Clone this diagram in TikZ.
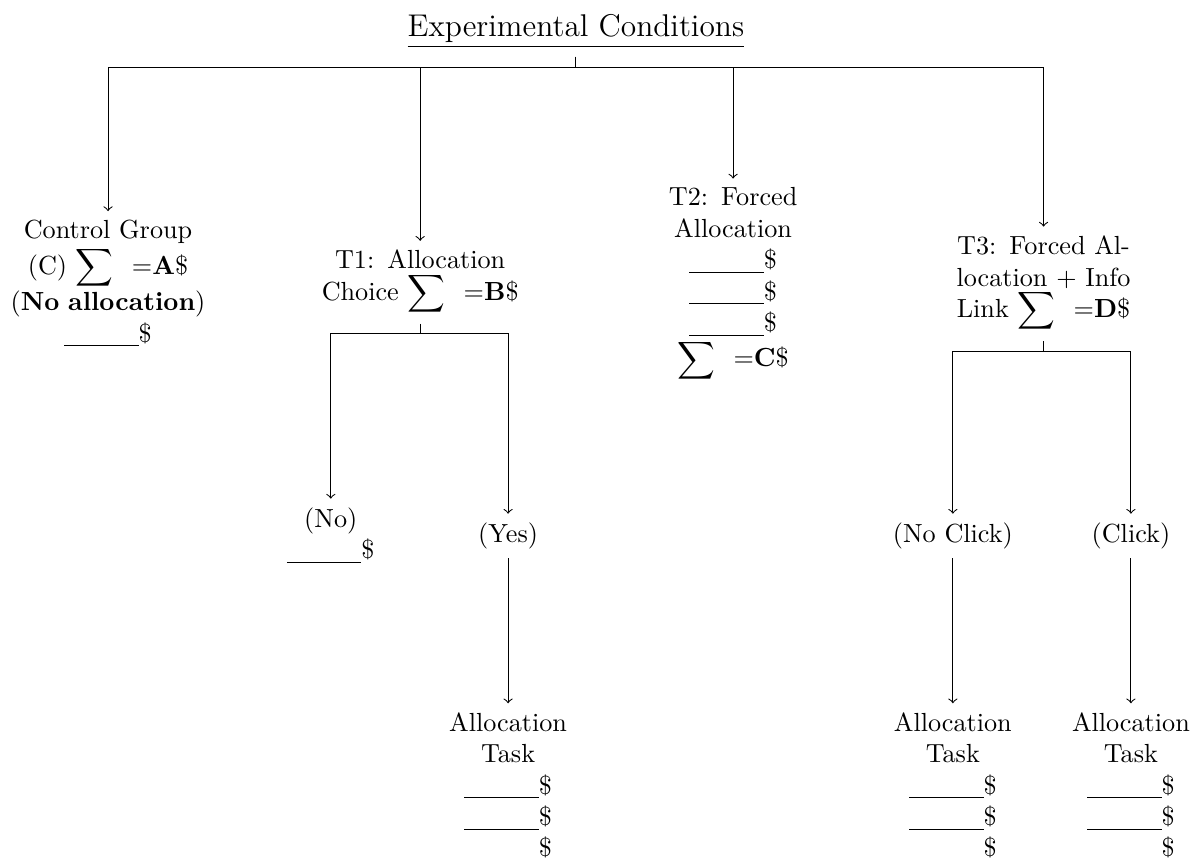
\documentclass[tikz,border=0pt]{standalone}
\usepackage{tikz}
\usetikzlibrary{calc}

\newcommand{\blankamt}{\underline{\hspace{1cm}}\$}
\newcommand{\nolineamt}{\hphantom{\underline{\hspace{1cm}}}\$}
\newcommand{\sumamt}[1]{$\displaystyle\sum$\hspace{0.7em}=\textbf{#1}\$}

\begin{document}
\begin{tikzpicture}[every node/.style={align=center, text width=3cm}, branch/.style={->}]
\useasboundingbox (0, 0) rectangle (16, -11.557);

\node[anchor=south, text width=] (title) at (7.73, -0.765) {\large\underline{Experimental Conditions}};

% conditions
\node (ctrl) at (1.45, -3.81)
	{Control Group\\ (C) \sumamt{A}\\ (\textbf{No allocation})\\ \blankamt};
\node (tone) at (5.64, -3.79)
	{T1: Allocation\\ Choice \sumamt{B}};
\node (ttwo) at (9.84, -3.82)
	{T2: Forced\\ Allocation\\ \blankamt\\ \blankamt\\ \blankamt\\ \sumamt{C}};
\node (tthree) at (14.007, -3.81)
	{T3: Forced Al-\\ location + Info\\ Link \sumamt{D}};

\node (no) at (4.44, -7.195) {(No)\\ \blankamt};
\node (yes) at (6.82, -7.195) {(Yes)};
\node (noclick) at (12.79, -7.195) {(No Click)};
\node (click) at (15.18, -7.195) {(Click)};

\node[anchor=north] (taskyes) at (6.82, -9.44)
	{Allocation\\ Task\\ \blankamt\\ \blankamt\\ \nolineamt};
\node[anchor=north] (tasknoclick) at (12.79, -9.44)
	{Allocation\\ Task\\ \blankamt\\ \blankamt\\ \nolineamt};
\node[anchor=north] (taskclick) at (15.18, -9.44)
	{Allocation\\ Task\\ \blankamt\\ \blankamt\\ \nolineamt};

% forks
\foreach \child in {ctrl, tone, ttwo, tthree}
	\draw[branch] (title.south) -- ++(0, -0.135) -| (\child.north);
\foreach \child in {no, yes}
	\draw[branch] (tone.south) -- ++(0, -0.135) -| (\child.north);
\foreach \child in {noclick, click}
	\draw[branch] (tthree.south) -- ++(0, -0.135) -| (\child.north);

\draw[branch] (yes) -- (taskyes);
\draw[branch] (noclick) -- (tasknoclick);
\draw[branch] (click) -- (taskclick);

\end{tikzpicture}
\end{document}
